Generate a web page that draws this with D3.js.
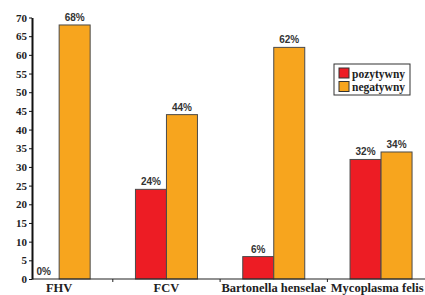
<!DOCTYPE html>
<html>
<head>
<meta charset="utf-8">
<script src="https://cdn.jsdelivr.net/npm/d3@7"></script>
<style>
  body { margin: 0; background: #fff; }
  svg { display: block; }
</style>
</head>
<body>
<svg id="chart" width="425" height="295"></svg>
<script>
// data
var categories = ["FHV", "FCV", "Bartonella henselae", "Mycoplasma felis"];
var series = ["pozytywny", "negatywny"];
var pozytywny = [0, 24, 6, 32];
var negatywny = [68, 44, 62, 34];
var yTicks = [0, 5, 10, 15, 20, 25, 30, 35, 40, 45, 50, 55, 60, 65, 70];
var colors = ["#ED1C24", "#F7A51E"];

var svg = d3.select("#chart");

var W = 425, axisX = 32, baseY = 279, topY = 17.5;

// scales
var x = d3.scaleBand()
    .domain(categories)
    .range([5.5, 434.7]);

var xInner = d3.scaleBand()
    .domain(series)
    .range([0, 62]);

var y = d3.scaleLinear()
    .domain([0, 70])
    .range([baseY, topY]);

var rows = categories.map(function(c, i) {
    return {cat: c, values: [pozytywny[i], negatywny[i]]};
});

// bars
var groups = svg.selectAll("g.group")
    .data(rows)
    .enter()
    .append("g")
    .attr("class", "group")
    .attr("transform", function(d) {
        return "translate(" + (x(d.cat) + x.bandwidth() / 2 - 31) + ",0)";
    });

groups.selectAll("rect")
    .data(function(d) { return d.values.map(function(v, j) { return {s: series[j], v: v, j: j}; }); })
    .enter()
    .append("rect")
    .attr("x", function(d) { return xInner(d.s); })
    .attr("width", xInner.bandwidth())
    .attr("y", function(d) { return y(d.v); })
    .attr("height", function(d) { return baseY - y(d.v); })
    .attr("fill", function(d) { return colors[d.j]; })
    .attr("stroke", function(d) { return d.v > 0 ? "#4a4a4a" : "none"; })
    .attr("stroke-width", 1);

// value labels
groups.selectAll("text.val")
    .data(function(d) { return d.values.map(function(v, j) { return {s: series[j], v: v}; }); })
    .enter()
    .append("text")
    .attr("class", "val")
    .attr("x", function(d) { return xInner(d.s) + xInner.bandwidth() / 2; })
    .attr("y", function(d) { return y(d.v) - 4; })
    .attr("text-anchor", "middle")
    .style("font-family", "Arial, 'Liberation Sans', sans-serif")
    .style("font-weight", "bold")
    .style("font-size", "10px")
    .style("fill", "#333")
    .text(function(d) { return d.v + "%"; });

// baseline
svg.append("line")
    .attr("x1", axisX).attr("x2", W)
    .attr("y1", baseY).attr("y2", baseY)
    .attr("stroke", "#222").attr("stroke-width", 1.2);

// category ticks between groups
svg.selectAll("line.ctick")
    .data(categories.slice(1))
    .enter()
    .append("line")
    .attr("class", "ctick")
    .attr("x1", function(d) { return x(d); })
    .attr("x2", function(d) { return x(d); })
    .attr("y1", baseY).attr("y2", baseY + 3)
    .attr("stroke", "#222");

// category labels (kept inside the window)
svg.selectAll("text.cat")
    .data(categories)
    .enter()
    .append("text")
    .attr("class", "cat")
    .attr("y", 292)
    .attr("text-anchor", "middle")
    .style("font-family", "'Liberation Serif', 'Times New Roman', serif")
    .style("font-weight", "bold")
    .style("font-size", "12.5px")
    .style("fill", "#222")
    .text(function(d) { return d; })
    .attr("x", function(d) {
        var cx = x(d) + x.bandwidth() / 2;
        var half = this.getComputedTextLength() / 2;
        return Math.min(cx, W - 1.5 - half);
    });

// y axis
var yAxis = d3.axisLeft(y)
    .tickValues(yTicks)
    .tickSize(3)
    .tickSizeOuter(0);

var yg = svg.append("g")
    .attr("transform", "translate(" + axisX + ",0)")
    .call(yAxis);

yg.select(".domain").attr("stroke", "#111").attr("stroke-width", 2);
yg.selectAll(".tick line").attr("stroke", "#111");
yg.selectAll(".tick text")
    .attr("x", -5)
    .style("font-family", "'Liberation Serif', 'Times New Roman', serif")
    .style("font-weight", "bold")
    .style("font-size", "11px")
    .style("fill", "#222");

// legend
var legend = svg.append("g").attr("transform", "translate(334,64)");
legend.append("rect")
    .attr("width", 76).attr("height", 31)
    .attr("fill", "#fff").attr("stroke", "#333").attr("stroke-width", 1);

var items = legend.selectAll("g.item")
    .data(series)
    .enter()
    .append("g")
    .attr("transform", function(d, i) { return "translate(5," + (4 + i * 13.5) + ")"; });

items.append("rect")
    .attr("width", 10).attr("height", 10)
    .attr("fill", function(d, i) { return colors[i]; })
    .attr("stroke", "#333");

items.append("text")
    .attr("x", 13).attr("y", 9.5)
    .style("font-family", "'Liberation Serif', 'Times New Roman', serif")
    .style("font-weight", "bold")
    .style("font-size", "11.5px")
    .style("fill", "#222")
    .text(function(d) { return d; });
</script>
</body>
</html>
